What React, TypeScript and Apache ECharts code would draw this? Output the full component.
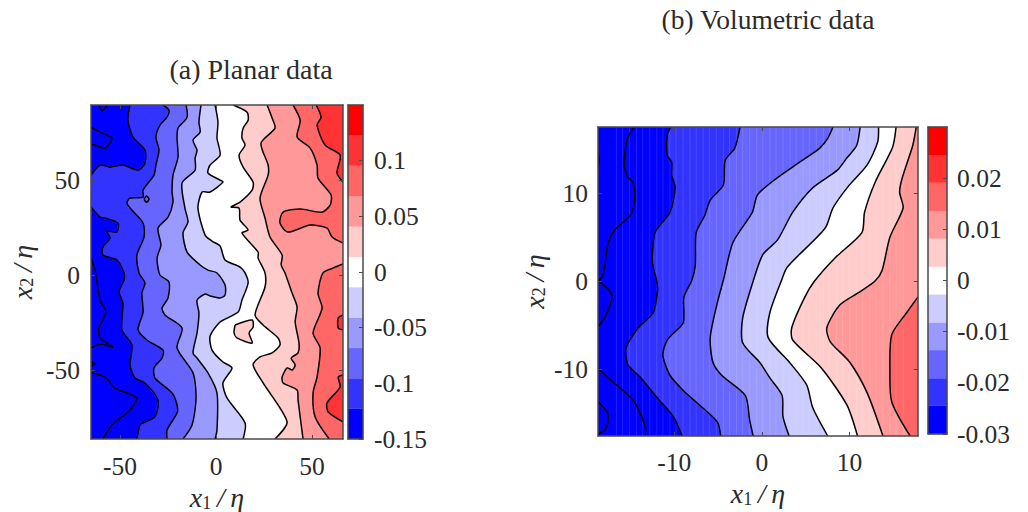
import React, { useEffect, useRef } from "react";
import * as echarts from "echarts";

const bandColors = ["#0000ff","#3333ff","#6666ff","#9999ff","#ccccff","#ffffff","#ffcccc","#ff9999","#ff6666","#ff3333","#ff0000"];

// ---------- Panel (a): contour chains in data units ----------
const aXRange = [-65.1, 66.1];
const aYRange = [-86.3, 89.5];
const aXTicks = [-50, 0, 50];
const aYTicks = [-50, 0, 50];
const aL1Top = [[-44.8,89.5],[-45.9,81.5],[-43.2,72.6],[-37,65.8],[-37,58.9],[-40.6,55.2],[-48.5,57.9],[-55.2,56.8],[-60.4,57.9],[-65.1,52.6]];
const aL1Bottom = [[-65.1,35.8],[-60.4,30.5],[-57.8,30],[-51.1,27.4],[-51.6,22.6],[-56.8,23.1],[-55.2,19.5],[-58.9,14.7],[-58.9,10.5],[-51.6,7.9],[-47.9,1.1],[-47.9,-2.6],[-50.5,-8.9],[-48.5,-14.7],[-49,-28.9],[-43.8,-36.8],[-44.8,-47.3],[-42.2,-54.2],[-37,-56.8],[-30.2,-65.8],[-31.8,-74.7],[-38,-77.8],[-39.6,-78.9],[-41.2,-86.3]];
const aL2 = [[-27.6,89.5],[-24.5,86.8],[-25.5,83.1],[-29.2,78.9],[-31.3,72.6],[-29.7,65.8],[-31.3,57.9],[-32.3,52.6],[-38,44.7],[-38,41],[-44.8,40.5],[-46.4,37.9],[-43.8,34.2],[-38,27.4],[-37.5,20],[-41.2,10.5],[-40.1,1.1],[-37,-4.2],[-38.6,-9.5],[-38,-19.5],[-40.6,-28.9],[-36,-34.2],[-27.6,-39.5],[-28.1,-43.7],[-32.3,-48.9],[-31.8,-54.2],[-22.9,-62.1],[-20.3,-68.4],[-20.3,-72.6],[-25.5,-81.5],[-25.5,-86.3]];
const aL3 = [[-15.6,89.5],[-15.1,83.1],[-19.8,77.3],[-20.3,72.1],[-19.8,62.1],[-22.4,52.6],[-22.9,43.7],[-22.4,38.4],[-25,30.5],[-30.2,24.7],[-28.7,15.8],[-30.7,8.9],[-29.2,0],[-24.5,-3.7],[-25,-12.1],[-28.1,-17.4],[-26.6,-21],[-17.7,-27.9],[-20.3,-38.4],[-12,-51.5],[-10.4,-64.7],[-12.5,-78.9],[-17.2,-86.3]];
const aL4 = [[-7.8,89.5],[-8.9,80.5],[-8.3,75.2],[-12,71],[-9.9,65.8],[-10.9,61.5],[-10.9,55.2],[-17.7,48.4],[-16.2,35.2],[-14.6,27.9],[-17.2,22.1],[-15.1,12.1],[-8.3,5.3],[-4.2,2.6],[0.5,1.1],[4.7,-5.3],[4.7,-10.5],[2.1,-12.1],[-3.1,-11],[-5.7,-10],[-9.9,-13.2],[-8.9,-20],[-9.9,-30.5],[-12,-41],[-9.9,-43.7],[-4.2,-51.5],[0.5,-62.1],[0.5,-81.5],[-0.5,-86.3]];
const aL5 = [[-0.5,89.5],[1,80.5],[0.5,72.1],[2.1,63.1],[-3.1,57.9],[-4.2,53.7],[2.1,50],[3.6,48.9],[-3.1,43.7],[-7.3,43.7],[-9.4,35.2],[-5.7,21],[-2.1,17.9],[2.1,15.3],[4.7,7.9],[12.5,4.2],[15.1,1.1],[16.7,-4.2],[13.5,-13.2],[11.5,-19.5],[2.1,-24.7],[-3.1,-32.1],[-2.1,-39.5],[3.6,-45.8],[8.3,-48.9],[3.6,-56.8],[5.7,-64.7],[15.1,-77.8],[14.1,-86.3]];
const aL6 = [[8.9,89.5],[16.2,85.7],[16.7,81.5],[14.1,77.3],[13.5,72.1],[15.1,68.4],[12,63.1],[14.1,56.8],[19.3,48.9],[18.8,44.7],[12.5,38.4],[7.8,35.8],[12,35.2],[12.5,28.9],[16.7,23.7],[13.5,22.1],[21.9,12.1],[21.9,8.9],[25.5,1.1],[25.5,-6.3],[20.3,-21],[24.5,-26.3],[32.3,-33.1],[33.3,-36.8],[29.2,-41],[22.9,-43.1],[19.3,-47.3],[24.5,-56.8],[37,-77.3],[30.7,-86.3]];
const aIsland = [[9.9,-26.3],[18.8,-23.7],[19.3,-27.4],[17.2,-30.5],[18.8,-35.8],[10.9,-33.1],[9.4,-30.5],[9.9,-26.3]];
const aL7 = [[26.6,89.5],[29.2,82.6],[30.7,77.3],[23.4,69.4],[27.1,57.9],[27.1,52.6],[22.9,40.5],[25.5,30],[28.1,20],[34.4,10.5],[33.9,5.3],[35.9,1.1],[39.6,-9.5],[42.2,-16.8],[41.2,-24.7],[43.2,-35.8],[42.7,-41],[39.1,-43.7],[41.2,-47.3],[39.6,-50],[37,-48.9],[34.4,-53.7],[34.9,-56.8],[42.2,-60.5],[42.7,-65.8],[45.3,-86.3]];
const aL8Top = [[40.1,89.5],[43.8,81.5],[42.2,72.6],[49,66.8],[52.6,57.9],[53.1,51],[59.9,42.1],[59.4,36.8],[55.2,33.1],[43.8,34.7],[34.9,33.1],[33.3,27.4],[37.5,22.6],[49,26.3],[57.8,24.7],[60.4,20],[66.1,16.8]];
const aL8Bottom = [[66.1,5.8],[61,3.7],[55.7,1.1],[53.1,-9.5],[55.2,-17.4],[50.5,-30.5],[54.2,-38.4],[52.6,-53.7],[50.5,-62.1],[51.6,-74.7],[58.9,-86.3]];
const aL9Top = [[52.1,89.5],[54.7,83.1],[52.6,78.9],[56.8,68.4],[64.6,63.1],[63,53.7],[66.1,48.9]];
const aL9Blob = [[66.1,-21],[63.6,-22.6],[63.6,-27.9],[66.1,-28.9]];
const aL9Bottom = [[66.1,-52.6],[63.6,-53.7],[64.6,-58.9],[57.8,-67.3],[58.4,-72.1],[66.1,-77.3]];
const aExtraLines = [
  [[-61,89.5],[-59.4,86.3],[-56.8,89.5]],
  [[-65.1,77.8],[-60.4,75.2],[-54.2,72.1],[-57.8,66.8],[-63,68.4],[-65.1,68.9]],
  [[-65.1,8.9],[-63,2.6],[-60.4,-13.2],[-57.3,-19.5],[-61,-27.9],[-60.4,-33.1],[-53.7,-37.9],[-60.4,-36.3],[-65.1,-38.4]],
  [[-65.1,-45.8],[-63,-46.8],[-65.1,-47.9]],
  [[-65.1,-51.6],[-57.8,-53.7],[-52.6,-59.5],[-41.2,-64.7],[-44.8,-71],[-54.2,-78.9],[-58.9,-86.3]],
  [[-37.5,39.9],[-36.2,41.6],[-34.9,39.9],[-36.2,38.3],[-37.5,39.9]],
];

// ---------- Panel (b) ----------
const bXRange = [-18.7, 17.8];
const bYRange = [-17.6, 17.5];
const bXTicks = [-10, 0, 10];
const bYTicks = [-10, 0, 10];
const bL1 = [[-10.4,17.5],[-10.8,16.6],[-10.8,14.3],[-10.3,13.5],[-10.3,12],[-9.9,10.6],[-10.5,7.8],[-12.2,5.5],[-12.5,2.2],[-12,0],[-11.9,-1],[-12.4,-3.6],[-14.1,-5.3],[-15.5,-7.6],[-15.3,-9.5],[-13.9,-10.9],[-11.9,-13.3],[-10.1,-15.4],[-9.1,-17.6]];
const bL2 = [[-2.5,17.5],[-3.1,15.1],[-4.2,13.7],[-4.4,10.9],[-5.9,9.2],[-6.5,7.5],[-7.5,5.5],[-7.6,1.8],[-8,0.1],[-8.9,-1.8],[-8.9,-3.6],[-9,-4.8],[-10.8,-6.7],[-11.3,-8.4],[-10.5,-10.7],[-8.8,-12.6],[-7.1,-14.1],[-5.1,-16],[-4.7,-17.6]];
const bL3 = [[8.1,17.5],[7.5,16.2],[6.6,15.1],[4.3,13.5],[1.7,11.7],[-0.5,9.8],[-1.1,7.8],[-3.3,4.4],[-4.4,0.1],[-5.1,-2.5],[-5.9,-6.4],[-5.6,-9.2],[-4.6,-10.7],[-1.9,-13],[-1.4,-15.8],[-1,-17.6]];
const bL4 = [[11.2,17.5],[10.8,15.4],[9.7,14],[8.6,12.6],[5.8,10.6],[3.5,7.8],[1.8,4.7],[0.1,3],[-1,0],[-2.2,-4.2],[-2.2,-7],[-0.2,-9.3],[0.9,-11],[2.3,-13],[2.4,-15.4],[3.1,-17.6]];
const bL5 = [[13.3,17.5],[13.2,15.8],[12,13.2],[9.8,10.7],[8.1,8.3],[7.2,6],[2.9,1.6],[2.2,0],[0.9,-3.6],[0.7,-6.4],[3.2,-9.3],[5.1,-11.8],[5.8,-14.4],[7.5,-17.6]];
const bL6 = [[15.3,17.5],[14.9,15.2],[12.9,11.2],[11.7,7.8],[11.4,5.5],[8.3,2.6],[6,0],[4.9,-1.8],[3.4,-5.3],[3.5,-6.7],[6.8,-9.9],[9.7,-14.1],[10.9,-17.6]];
const bL7 = [[17.6,17.5],[17.2,15.4],[16,11.7],[15.7,10.1],[16.1,8.3],[14.6,5],[13.7,1.2],[12.9,0],[11.2,-1.2],[8.9,-2.7],[7.4,-5.3],[7.8,-6.9],[10,-9.2],[12,-12.7],[13.8,-17.6]];
const bL8 = [[17.8,-1.8],[16.5,-3.6],[14.8,-6.1],[14.6,-10.1],[14.8,-13.7],[16.9,-17.6]];
const bExtraLines = [
  [[-18.7,14.7],[-18.6,13.7],[-18.7,12.8]],
  [[-14.6,17.5],[-15.4,16],[-15.7,13.2],[-15.3,11.8],[-14.7,11.2],[-14.5,9.4],[-15,7.5],[-16.8,5.8],[-17.6,4.1],[-17.9,1.8],[-18.2,0.5],[-18.7,0]],
  [[-18.7,0.1],[-17.1,-1.6],[-17.9,-4.1],[-18.7,-5.2]],
  [[-18.7,-9.9],[-17.3,-11.2],[-14.7,-13.5],[-13.9,-15],[-13.3,-16.6],[-13.3,-17.6]],
  [[-18.7,-13.7],[-17.6,-15],[-17.6,-16.1],[-17.9,-16.9],[-18.7,-17.4]],
];
const bStripes = [-16.6,-15.9,-15.1,-14.3,-13.6,-12.8,-12,-11.3,-10.5,-9.8,-9,-8.2,-7.5,-6.7,-6,-5.2,-4.4,-3.7,-2.9,-2.2,-1.4,-0.6,0.1,0.9,1.6,2.4,3.2,3.9,4.7,5.4,6.2,7,7.7,8.5,9.2,10,10.8,11.5,12.3,13,13.8,14.6,15.3,16.1];

// ---------- Colour bars ----------
const aCbEdges = [-0.15,-0.1227,-0.0955,-0.0682,-0.0409,-0.0136,0.0136,0.0409,0.0682,0.0955,0.1227,0.15];
const bCbEdges = [-0.03,-0.0245,-0.0191,-0.0136,-0.0082,-0.0027,0.0027,0.0082,0.0136,0.0191,0.0245,0.03];
const aCbTicks = [-0.15,-0.1,-0.05,0,0.05,0.1];
const bCbTicks = [-0.03,-0.02,-0.01,0,0.01,0.02];

const FONT = "'Liberation Serif', 'DejaVu Serif', serif";
const INK = "#2b2b2b";
const FRAME = "#4a4a4a";

type Item = { kind: "fill" | "line" | "stripe"; pts: number[][]; color?: string };

function panelItems(xr: number[], yr: number[], fills: [number[][], number][], chains: number[][][], stripes: number[]): Item[] {
  const items: Item[] = [];
  const rect = [[xr[0], yr[1]], [xr[1], yr[1]], [xr[1], yr[0]], [xr[0], yr[0]]];
  items.push({ kind: "fill", pts: rect, color: bandColors[0] });
  fills.forEach(([pts, c]) => items.push({ kind: "fill", pts, color: bandColors[c] }));
  stripes.forEach((x) => items.push({ kind: "stripe", pts: [[x, yr[1]], [x, yr[0]]] }));
  chains.forEach((pts) => items.push({ kind: "line", pts }));
  return items;
}

function contourSeries(items: Item[], g: number) {
  return {
    type: "custom",
    xAxisIndex: g * 2,
    yAxisIndex: g * 2,
    coordinateSystem: "cartesian2d",
    clip: true,
    silent: true,
    z: 2,
    encode: { x: 0, y: 1 },
    data: items.map((it) => it.pts[0]),
    renderItem: (params: any, api: any) => {
      const it = items[params.dataIndex];
      const points = it.pts.map((p) => api.coord(p));
      if (it.kind === "fill")
        return { type: "polygon", shape: { points }, style: { fill: it.color, stroke: it.color, lineWidth: 0.3 } };
      if (it.kind === "stripe")
        return { type: "polyline", shape: { points }, style: { fill: "none", stroke: "rgba(255,255,255,0.12)", lineWidth: 1 } };
      return { type: "polyline", shape: { points, smooth: 0.25 }, style: { fill: "none", stroke: "#000000", lineWidth: 1.5 } };
    },
  };
}

function colorbarSeries(edges: number[], g: number) {
  return {
    type: "custom",
    xAxisIndex: g * 2,
    yAxisIndex: g * 2,
    coordinateSystem: "cartesian2d",
    silent: true,
    z: 2,
    encode: { x: 0, y: 1 },
    data: bandColors.map((_, i) => [0, edges[i], 1, edges[i + 1]]),
    renderItem: (params: any, api: any) => {
      const a = api.coord([api.value(0), api.value(1)]);
      const b = api.coord([api.value(2), api.value(3)]);
      const c = bandColors[params.dataIndex];
      return { type: "rect", shape: { x: a[0], y: b[1], width: b[0] - a[0], height: a[1] - b[1] }, style: { fill: c, stroke: c, lineWidth: 0.3 } };
    },
  };
}

function fmt(v: number) { return String(v); }

const nameRich = {
  i: { fontFamily: FONT, fontStyle: "italic", fontSize: 28, color: INK },
  s: { fontFamily: FONT, fontSize: 18, color: INK, padding: [10, 0, 0, 0] },
};

function axisPair(g: number, dim: "x" | "y", range: number[], ticks: number[], labelled: boolean, opts: any) {
  const base = (position: string, show: boolean, extra: any) => ({
    gridIndex: g,
    type: "value",
    min: range[0],
    max: range[1],
    position,
    z: 10,
    splitLine: { show: false },
    axisLine: { show: true, onZero: false, lineStyle: { color: FRAME, width: 1.5 } },
    axisTick: { show: ticks.length > 0 && (extra.tick ?? true), inside: true, length: 4, customValues: ticks, lineStyle: { color: FRAME, width: 1 } },
    axisLabel: { show, customValues: ticks, formatter: fmt, margin: opts.margin, padding: opts.labelPad ?? 0, fontFamily: FONT, fontSize: 25.5, color: INK, hideOverlap: false, showMinLabel: true, showMaxLabel: true },
    ...(show && opts.name
      ? {
          name: opts.name,
          nameLocation: "middle",
          nameGap: opts.nameGap,
          nameRotate: dim === "y" ? 90 : 0,
          nameTextStyle: { rich: nameRich },
        }
      : {}),
  });
  const pos = dim === "x" ? ["bottom", "top"] : ["left", "right"];
  return opts.cb
    ? [base("left", false, { tick: false }), base("right", true, {})]
    : [base(pos[0], labelled, {}), base(pos[1], false, {})];
}

const aGrid = { left: 91, top: 105, width: 252, height: 334, outerBoundsMode: "none" };
const bGrid = { left: 598, top: 127, width: 320, height: 309, outerBoundsMode: "none" };
const aCbGrid = { left: 348, top: 105, width: 15, height: 334, outerBoundsMode: "none" };
const bCbGrid = { left: 928, top: 127, width: 19, height: 307, outerBoundsMode: "none" };

export default function App() {
  const ref = useRef<HTMLDivElement>(null);
  useEffect(() => {
    const chart = echarts.init(ref.current!, null, { renderer: "svg" });
    const aR: number[][] = [[aXRange[1], aYRange[0]], [aXRange[1], aYRange[1]]];
    const bR: number[][] = [[bXRange[1], bYRange[0]], [bXRange[1], bYRange[1]]];
    const aItems = panelItems(aXRange, aYRange, [
      [[...aL1Top, ...aL1Bottom, ...aR], 1],
      [[...aL2, ...aR], 2],
      [[...aL3, ...aR], 3],
      [[...aL4, ...aR], 4],
      [[...aL5, ...aR], 5],
      [[...aL6, ...aR], 6],
      [aIsland, 6],
      [[...aL7, ...aR], 7],
      [[...aL8Top, aR[1]], 8],
      [[...aL8Bottom, aR[0]], 8],
      [[...aL9Top, aR[1]], 9],
      [aL9Blob, 9],
      [aL9Bottom, 9],
    ], [aL1Top, aL1Bottom, aL2, aL3, aL4, aL5, aL6, aIsland, aL7, aL8Top, aL8Bottom, aL9Top, aL9Blob, aL9Bottom, ...aExtraLines], []);
    const bItems = panelItems(bXRange, bYRange, [
      [[...bL1, ...bR], 1],
      [[...bL2, ...bR], 2],
      [[...bL3, ...bR], 3],
      [[...bL4, ...bR], 4],
      [[...bL5, ...bR], 5],
      [[...bL6, ...bR], 6],
      [[...bL7, ...bR], 7],
      [[...bL8, bR[0]], 8],
    ], [bL1, bL2, bL3, bL4, bL5, bL6, bL7, bL8, ...bExtraLines], bStripes);

    const axisName = "{i|x}{s|1}{i|\u2009/\u2009\u03B7}";
    const axisNameY = "{i|x}{s|2}{i|\u2009/\u2009\u03B7}";
    const xAxes = [
      ...axisPair(0, "x", aXRange, aXTicks, true, { margin: 14, name: axisName, nameGap: 36 }),
      ...axisPair(1, "x", bXRange, bXTicks, true, { margin: 13, name: axisName, nameGap: 42 }),
      ...axisPair(2, "x", [0, 1], [], false, {}),
      ...axisPair(3, "x", [0, 1], [], false, {}),
    ];
    const yAxes = [
      ...axisPair(0, "y", aYRange, aYTicks, true, { margin: 11, name: axisNameY, nameGap: 55, labelPad: [0, 0, 3, 0] }),
      ...axisPair(1, "y", bYRange, bYTicks, true, { margin: 10, name: axisNameY, nameGap: 50, labelPad: [0, 0, 3, 0] }),
      ...axisPair(2, "y", [-0.15, 0.15], aCbTicks, true, { margin: 11, cb: true }),
      ...axisPair(3, "y", [-0.03, 0.03], bCbTicks, true, { margin: 10, cb: true }),
    ];

    chart.setOption({
      animation: false,
      backgroundColor: "#ffffff",
      title: [
        { text: "(a) Planar data", left: 246, top: 50, textAlign: "center", textStyle: { fontFamily: FONT, fontWeight: "normal", fontSize: 28, color: INK } },
        { text: "(b) Volumetric data", left: 763, top: 0, textAlign: "center", textStyle: { fontFamily: FONT, fontWeight: "normal", fontSize: 27.5, color: INK } },
      ],
      grid: [aGrid, bGrid, aCbGrid, bCbGrid],
      xAxis: xAxes,
      yAxis: yAxes,
      series: [
        contourSeries(aItems, 0),
        contourSeries(bItems, 1),
        colorbarSeries(aCbEdges, 2),
        colorbarSeries(bCbEdges, 3),
      ],
    });
    return () => chart.dispose();
  }, []);
  return <div ref={ref} style={{ position: "fixed", left: 0, top: 0, width: 1028, height: 512 }} />;
}
